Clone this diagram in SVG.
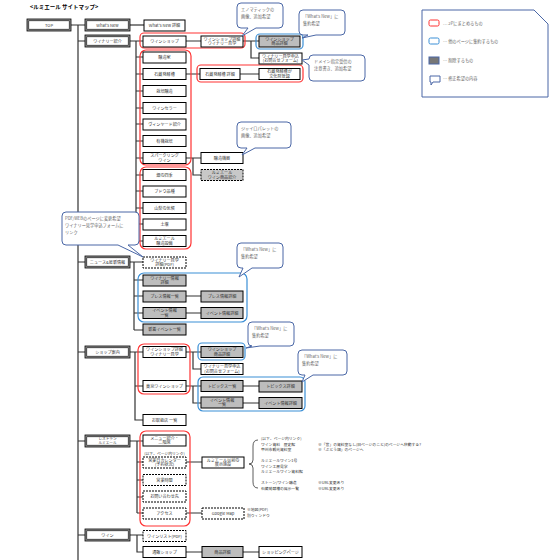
<svg xmlns="http://www.w3.org/2000/svg" width="560" height="560" viewBox="0 0 560 560">
<style>
text{font-family:"Noto Sans CJK JP","Noto Sans",sans-serif;font-size:4.1px;fill:#333}
.tc{text-anchor:middle}
.o1{fill:#999;stroke:#000;stroke-width:0.8}
.i1{fill:#fff;stroke:#000;stroke-width:0.6}
.n{fill:#fff;stroke:#000;stroke-width:1}
.g{fill:#bdbdbd;stroke:#000;stroke-width:1}
.d{fill:#fff;stroke:#000;stroke-width:1;stroke-dasharray:2 1}
.dg{fill:#c8c8c8;stroke:#000;stroke-width:1;stroke-dasharray:2 1}
.red{fill:none;stroke:#f33;stroke-width:1.2}
.blue{fill:none;stroke:#3b8fd6;stroke-width:1.2}
.call{fill:#fff;stroke:#4a67a6;stroke-width:1}
.ct{fill:#666;font-size:4.2px}
.ln{fill:none;stroke:#333;stroke-width:1.2}
.sm{font-size:3.8px}
.xs{font-size:3.6px}
</style>
<rect width="560" height="560" fill="#fff"/>
<text x="30" y="9" style="font-size:5.5px;font-weight:bold;fill:#000">&lt;ルミエール サイトマップ&gt;</text>

<g id="connectors">
<path class="ln" d="M71,25H85 M78,25V560 M78,41H85 M78,262H85 M78,352H85 M78,441H85 M78,535H85"/>
<path class="ln" d="M130,25H144"/>
<path class="ln" d="M130,41H143 M136,41V241 M136,57H143 M136,74H143 M136,91H143 M136,108H143 M136,124H143 M136,141H143 M136,158H143 M136,175H143 M136,191H143 M136,208H143 M136,224H143 M136,241H143"/>
<path class="ln" d="M186,41H201 M243,41H259 M251,41V58H259"/>
<path class="ln" d="M186,74H200 M240,74H259"/>
<path class="ln" d="M186,158H201 M193,158V175H201"/>
<path class="ln" d="M130,262H143 M134,262V330 M134,280H143 M134,296H143 M134,313H143 M134,330H143"/>
<path class="ln" d="M186,296H201 M186,313H201"/>
<path class="ln" d="M130,352H143 M135,352V420H143 M135,386H143"/>
<path class="ln" d="M186,352H201 M193,352V369H201"/>
<path class="ln" d="M186,386H201 M193,386V403H201 M243,386H259 M243,403H259"/>
<path class="ln" d="M130,441H143 M137,441V513 M137,462H143 M137,480H143 M137,497H143 M137,513H143"/>
<path class="ln" d="M186,462H202 M186,513H202"/>
<path class="ln" d="M130,535H143 M137,535V552H143 M186,552H202 M243,552H259"/>
<path fill="none" stroke="#333" stroke-width="0.8" d="M258,440Q253,440 253,446V460Q253,464 249,464Q253,464 253,468V482Q253,488 258,488"/>
</g>

<g id="groups">
<rect class="red" x="140" y="33" width="105" height="15" rx="4"/>
<rect class="red" x="197" y="65" width="106" height="17" rx="4"/>
<rect class="red" x="140" y="50" width="51" height="115" rx="6"/>
<rect class="red" x="140" y="167" width="51" height="82" rx="6"/>
<rect class="red" x="138" y="344" width="52" height="50" rx="6"/>
<rect class="red" x="140" y="431" width="50" height="95" rx="6"/>
<rect class="blue" x="256" y="34" width="47" height="15" rx="4"/>
<rect class="blue" x="138" y="273" width="109" height="49" rx="6"/>
<rect class="blue" x="198" y="343" width="47" height="17" rx="4"/>
<rect class="blue" x="198" y="377" width="107" height="34" rx="5"/>
</g>

<g id="n-top"><rect class="o1" x="27" y="19" width="44" height="12"/><rect class="i1" x="28.8" y="20.8" width="40.4" height="8.4"/><text class="tc" x="49" y="26.5">TOP</text></g>
<g id="n-whatsnew"><rect class="o1" x="85" y="19" width="45" height="12"/><rect class="i1" x="86.8" y="20.8" width="41.4" height="8.4"/><text class="tc" x="107.5" y="26.5">What's New</text></g>
<g id="n-winery"><rect class="o1" x="85" y="35" width="45" height="12"/><rect class="i1" x="86.8" y="36.8" width="41.4" height="8.4"/><text class="tc" x="107.5" y="42.5">ワイナリー紹介</text></g>
<g id="n-news"><rect class="o1" x="85" y="256" width="45" height="12"/><rect class="i1" x="86.8" y="257.8" width="41.4" height="8.4"/><text class="tc" x="107.5" y="263.5">ニュース&amp;最新情報</text></g>
<g id="n-shop"><rect class="o1" x="85" y="346" width="45" height="12"/><rect class="i1" x="86.8" y="347.8" width="41.4" height="8.4"/><text class="tc" x="107.5" y="353.5">ショップ案内</text></g>
<g id="n-rest"><rect class="o1" x="85" y="435" width="45" height="12"/><rect class="i1" x="86.8" y="436.8" width="41.4" height="8.4"/><text class="tc xs" x="107.5" y="440.4">レストラン</text><text class="tc xs" x="107.5" y="444.4">ルミエール</text></g>
<g id="n-wine"><rect class="o1" x="85" y="529" width="45" height="12"/><rect class="i1" x="86.8" y="530.8" width="41.4" height="8.4"/><text class="tc" x="107.5" y="536.5">ワイン</text></g>

<g id="n-wn-detail"><rect class="n" x="144" y="20" width="41" height="11"/><text class="tc" x="164.5" y="27">What's New 詳細</text></g>
<g id="n-wshop"><rect class="n" x="143" y="36" width="43" height="11"/><text class="tc" x="164.5" y="43">ワインショップ</text></g>
<g id="n-wshop-d"><rect class="n" x="201" y="36" width="42" height="11"/><text class="tc" x="222" y="40.7">ワインショップ詳細</text><text class="tc" x="222" y="45.2">ワイナリー見学</text></g>
<g id="n-wshop-item"><rect class="g" x="259" y="36" width="41" height="11"/><text class="tc" x="279.5" y="40.7">ワインショップ</text><text class="tc" x="279.5" y="45.2">商品詳細</text></g>
<g id="n-visit-form"><rect class="n" x="259" y="53" width="43" height="11"/><text class="tc" x="280.5" y="57.7">ワイナリー見学申込</text><text class="tc" x="280.5" y="62.2">(お問合せフォーム)</text></g>

<g id="n-c1"><rect class="n" x="143" y="52" width="43" height="11"/><text class="tc" x="164.5" y="59">醸造家</text></g>
<g id="n-c2"><rect class="n" x="143" y="68.5" width="43" height="11"/><text class="tc" x="164.5" y="75.5">石蔵発酵槽</text></g>
<g id="n-c2d"><rect class="n" x="200" y="68.5" width="40" height="11"/><text class="tc" x="220" y="75.5">石蔵発酵槽 詳細</text></g>
<g id="n-c2e"><rect class="n" x="259" y="68.5" width="41" height="11"/><text class="tc" x="279.5" y="73.2">石蔵発酵槽が</text><text class="tc" x="279.5" y="77.7">文化財登録</text></g>
<g id="n-c3"><rect class="n" x="143" y="85.5" width="43" height="11"/><text class="tc" x="164.5" y="92.5">栽培醸造</text></g>
<g id="n-c4"><rect class="n" x="143" y="102.5" width="43" height="11"/><text class="tc" x="164.5" y="109.5">ワインセラー</text></g>
<g id="n-c5"><rect class="n" x="143" y="119" width="43" height="11"/><text class="tc" x="164.5" y="126">ヴィンヤード紹介</text></g>
<g id="n-c6"><rect class="n" x="143" y="135.5" width="43" height="11"/><text class="tc" x="164.5" y="142.5">有機栽培</text></g>
<g id="n-c7"><rect class="n" x="143" y="152.5" width="43" height="11"/><text class="tc" x="164.5" y="157.2">スパークリング</text><text class="tc" x="164.5" y="161.7">ワイン</text></g>
<g id="n-c7a"><rect class="n" x="201" y="152.5" width="42" height="11"/><text class="tc" x="222" y="159.5">醸造機器</text></g>
<g id="n-c7b"><rect class="dg" x="201" y="169.5" width="42" height="11"/><text class="tc" x="222" y="174.2">ルミエール</text><text class="tc" x="222" y="178.7">ワイン商品紹介</text></g>
<g id="n-c8"><rect class="n" x="143" y="169.5" width="43" height="11"/><text class="tc" x="164.5" y="176.5">畑の四季</text></g>
<g id="n-c9"><rect class="n" x="143" y="186" width="43" height="11"/><text class="tc" x="164.5" y="193">ブドウ品種</text></g>
<g id="n-c10"><rect class="n" x="143" y="202.5" width="43" height="11"/><text class="tc" x="164.5" y="209.5">山梨の気候</text></g>
<g id="n-c11"><rect class="n" x="143" y="219" width="43" height="11"/><text class="tc" x="164.5" y="226">土壌</text></g>
<g id="n-c12"><rect class="n" x="143" y="235.5" width="43" height="11"/><text class="tc" x="164.5" y="240.2">ルミエール</text><text class="tc" x="164.5" y="244.7">醸造設備</text></g>

<g id="n-n1"><rect class="d" x="143" y="257" width="43" height="11"/><text class="tc" x="164.5" y="261.7">ワイナリー見学</text><text class="tc" x="164.5" y="266.2">詳細(PDF)</text></g>
<g id="n-n2"><rect class="g" x="143" y="275" width="43" height="11"/><text class="tc" x="164.5" y="279.7">ワイナリー情報</text><text class="tc" x="164.5" y="284.2">詳細</text></g>
<g id="n-n3"><rect class="g" x="143" y="291" width="43" height="11"/><text class="tc" x="164.5" y="298">プレス情報一覧</text></g>
<g id="n-n3d"><rect class="g" x="201" y="291" width="42" height="11"/><text class="tc" x="222" y="298">プレス情報詳細</text></g>
<g id="n-n4"><rect class="g" x="143" y="307.5" width="43" height="11"/><text class="tc" x="164.5" y="312.2">イベント情報</text><text class="tc" x="164.5" y="316.7">一覧</text></g>
<g id="n-n4d"><rect class="g" x="201" y="307.5" width="42" height="11"/><text class="tc" x="222" y="314.5">イベント情報詳細</text></g>
<g id="n-n5"><rect class="g" x="143" y="324" width="43" height="11"/><text class="tc" x="164.5" y="331">新着イベント一覧</text></g>

<g id="n-s1"><rect class="n" x="143" y="346.5" width="43" height="11"/><text class="tc" x="164.5" y="351.2">ワインショップ詳細</text><text class="tc" x="164.5" y="355.7">ワイナリー見学</text></g>
<g id="n-s1a"><rect class="g" x="201" y="346.5" width="42" height="11"/><text class="tc" x="222" y="351.2">ワインショップ</text><text class="tc" x="222" y="355.7">商品詳細</text></g>
<g id="n-s1b"><rect class="n" x="201" y="363.5" width="42" height="11"/><text class="tc" x="222" y="368.2">ワイナリー見学申込</text><text class="tc" x="222" y="372.7">(お問合せフォーム)</text></g>
<g id="n-s2"><rect class="n" x="143" y="380.5" width="43" height="11"/><text class="tc" x="164.5" y="387.5">東京ワインショップ</text></g>
<g id="n-s2a"><rect class="g" x="201" y="380.5" width="42" height="11"/><text class="tc" x="222" y="387.5">トピックス一覧</text></g>
<g id="n-s2b"><rect class="g" x="259" y="381" width="43" height="11"/><text class="tc" x="280.5" y="388">トピックス詳細</text></g>
<g id="n-s2c"><rect class="g" x="201" y="397" width="42" height="11"/><text class="tc" x="222" y="401.7">イベント情報</text><text class="tc" x="222" y="406.2">一覧</text></g>
<g id="n-s2d"><rect class="g" x="259" y="397.5" width="43" height="11"/><text class="tc" x="280.5" y="404.5">イベント情報詳細</text></g>
<g id="n-s3"><rect class="n" x="143" y="414.5" width="43" height="11"/><text class="tc" x="164.5" y="421.5">お取扱店 一覧</text></g>

<g id="n-r1"><rect class="n" x="143" y="435" width="43" height="11"/><text class="tc" x="164.5" y="439.7">メニュー紹介・</text><text class="tc" x="164.5" y="444.2">二階席</text></g>
<g id="n-r2"><text class="tc sm" x="164.5" y="454.5">(以下、ページ内リンク)</text><rect class="d" x="143" y="457" width="43" height="11"/><text class="tc" x="164.5" y="461.7">営業日カレンダー</text><text class="tc" x="164.5" y="466.2">(予約状況)</text></g>
<g id="n-r2a"><rect class="n" x="202" y="457" width="42" height="11"/><text class="tc" x="223" y="461.7">ルミエール以前の</text><text class="tc" x="223" y="466.2">展示施設</text></g>
<g id="n-r3"><rect class="d" x="143" y="474.5" width="43" height="11"/><text class="tc" x="164.5" y="481.5">営業時間</text></g>
<g id="n-r4"><rect class="d" x="143" y="491" width="43" height="11"/><text class="tc" x="164.5" y="498">お問い合わせ先</text></g>
<g id="n-r5"><rect class="d" x="143" y="508" width="43" height="11"/><text class="tc" x="164.5" y="515">アクセス</text></g>
<g id="n-r5a"><rect class="d" x="202" y="508" width="42" height="11"/><text class="tc" x="223" y="515">Google Map</text><text class="sm" x="247" y="511">※地図(PDF)</text><text class="sm" x="247" y="516.5">別ウィンドウ</text></g>

<g id="n-w1"><rect class="d" x="143" y="530.5" width="43" height="11"/><text class="tc" x="164.5" y="537.5">ワインリスト(PDF)</text></g>
<g id="n-w2"><rect class="n" x="143" y="546.5" width="43" height="11"/><text class="tc" x="164.5" y="553.5">通販ショップ</text></g>
<g id="n-w2a"><rect class="g" x="202" y="546.5" width="41" height="11"/><text class="tc" x="222.5" y="553.5">商品詳細</text></g>
<g id="n-w2b"><rect class="n" x="259" y="546.5" width="43" height="11"/><text class="tc" x="280.5" y="553.5">ショッピングページ</text></g>

<g id="brace-notes">
<text class="sm" x="261" y="440">(以下、ページ内リンク)</text>
<text class="sm" x="261" y="445.5">ワイン資料　歴史館</text>
<text class="sm" x="261" y="451">甲州市観光資料室</text>
<text class="sm" x="261" y="462">ルミエールワイン1号</text>
<text class="sm" x="261" y="467.5">ワイン工房見学</text>
<text class="sm" x="261" y="473">ルミエールワイン資料館</text>
<text class="sm" x="261" y="484">ストーン/ワイン醸造</text>
<text class="sm" x="261" y="489.5">石蔵発酵槽の展示一覧</text>
<text class="sm" x="318" y="445.5">※「営」の資料室なし(旧ページのこと)のページへ移動する?</text>
<text class="sm" x="318" y="451">※「ぶどう畑」のページへ</text>
<text class="sm" x="318" y="484">※URL変更あり</text>
<text class="sm" x="318" y="489.5">※URL変更あり</text>
</g>

<g id="callouts">
<g id="co1"><path class="call" d="M241,3H279Q283,3 283,7V24Q283,28 279,28H256L242,36L248,28H241Q237,28 237,24V7Q237,3 241,3Z"/><text class="ct" x="241" y="11">エノマティックの</text><text class="ct" x="241" y="18">画像、追加希望</text></g>
<g id="co2"><path class="call" d="M303,10H341Q345,10 345,14V31Q345,35 341,35H316L302,38L308,35H303Q299,35 299,31V14Q299,10 303,10Z"/><text class="ct" x="303" y="18">「What's New」に</text><text class="ct" x="303" y="25">集約希望</text></g>
<g id="co3"><path class="call" d="M313,55H361Q365,55 365,59V77Q365,81 361,81H313Q309,81 309,77V65L302,60L309,59Q309,55 313,55Z"/><text class="ct" x="314" y="63">ドメイン指定受信の</text><text class="ct" x="314" y="70">注意書き、追加希望</text></g>
<g id="co4"><path class="call" d="M241,122H287Q291,122 291,126V144Q291,148 287,148H255L242,155L247,148H241Q237,148 237,144V126Q237,122 241,122Z"/><text class="ct" x="241" y="130">ジャイロパレットの</text><text class="ct" x="241" y="137">画像、追加希望</text></g>
<g id="co5"><path class="call" d="M66,212H135Q139,212 139,216V241Q139,245 135,245H128L143,257L118,245H66Q62,245 62,241V216Q62,212 66,212Z"/><text class="ct" x="65" y="220">PDF/WEBのページに変更希望</text><text class="ct" x="65" y="227">ワイナリー見学申込フォームに</text><text class="ct" x="65" y="234">リンク</text></g>
<g id="co6"><path class="call" d="M241,243H279Q283,243 283,247V264Q283,268 279,268H252L239,277L243,268H241Q237,268 237,264V247Q237,243 241,243Z"/><text class="ct" x="241" y="251">「What's New」に</text><text class="ct" x="241" y="258">集約希望</text></g>
<g id="co7"><path class="call" d="M252,322H290Q294,322 294,326V342Q294,346 290,346H260L246,348L252,346Q248,346 248,342V326Q248,322 252,322Z"/><text class="ct" x="252" y="330">「What's New」に</text><text class="ct" x="252" y="337">集約希望</text></g>
<g id="co8"><path class="call" d="M302,350H343Q347,350 347,354V371Q347,375 343,375H313L302,382L305,375H302Q298,375 298,371V354Q298,350 302,350Z"/><text class="ct" x="302" y="358">「What's New」に</text><text class="ct" x="302" y="365">集約希望</text></g>
</g>

<g id="legend">
<path fill="#fff" stroke="#4a67a6" stroke-width="1" d="M422,10H534L548,24V97H422Z"/>
<rect x="429" y="20" width="10" height="6" rx="1.5" fill="#fff" stroke="#f33" stroke-width="1"/>
<text class="ct" x="443" y="25">… 2Pにまとめるもの</text>
<rect x="429" y="38" width="10" height="6" rx="1.5" fill="#fff" stroke="#3b8fd6" stroke-width="1"/>
<text class="ct" x="443" y="43">… 他のページに集約するもの</text>
<rect x="429" y="57" width="10" height="7" fill="#777" stroke="#4a67a6" stroke-width="1"/>
<text class="ct" x="443" y="62">… 削除するもの</text>
<path fill="#fff" stroke="#4a67a6" stroke-width="1" d="M430,76H440V82H433L431,85V82H430Z"/>
<text class="ct" x="443" y="80">… 修正希望の内容</text>
</g>
</svg>
